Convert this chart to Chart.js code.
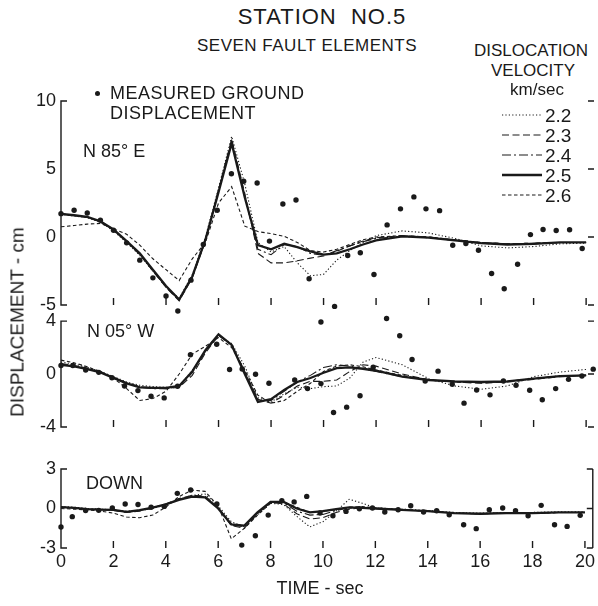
<!DOCTYPE html>
<html>
<head>
<meta charset="utf-8">
<title>Station No.5 - Seven Fault Elements</title>
<script src="https://cdn.jsdelivr.net/npm/chart.js@4"></script>
<style>
  body { margin: 0; background: #fff; }
  #fig { position: relative; width: 598px; height: 606px; background: #fff; overflow: hidden;
         font-family: "Liberation Sans", Arial, sans-serif; color: #1a1a1a; }
  #fig canvas { position: absolute; left: 0; }
  .t { position: absolute; white-space: nowrap; line-height: 1; }
  .c { transform: translate(-50%, -50%); }
  .l { transform: translateY(-50%); }
  .dot { position: absolute; width: 5px; height: 5px; border-radius: 50%; background: #1a1a1a; }
</style>
</head>
<body>
<div id="fig">
  <canvas id="p1" width="598" height="262" style="top:85px"></canvas>
  <canvas id="p2" width="598" height="150" style="top:300px"></canvas>
  <canvas id="p3" width="598" height="156" style="top:450px"></canvas>

  <div class="t c" style="left:322px;top:17px;font-size:22px;letter-spacing:1px">STATION&nbsp; NO.5</div>
  <div class="t c" style="left:307px;top:45px;font-size:17px;letter-spacing:0.5px">SEVEN FAULT ELEMENTS</div>
  <div class="t c" style="left:531px;top:50px;font-size:17px">DISLOCATION</div>
  <div class="t c" style="left:533px;top:70px;font-size:17px">VELOCITY</div>
  <div class="t c" style="left:537px;top:89px;font-size:17px">km/sec</div>
  <div id="legend"></div>

  <div class="dot" style="left:95px;top:91px"></div>
  <div class="t l" style="left:110px;top:93px;font-size:18px;letter-spacing:0.5px">MEASURED GROUND</div>
  <div class="t l" style="left:110px;top:113px;font-size:18px;letter-spacing:0.5px">DISPLACEMENT</div>

  <div class="t l" style="left:83px;top:151px;font-size:18px">N 85° E</div>
  <div class="t l" style="left:87px;top:331px;font-size:18px">N 05° W</div>
  <div class="t l" style="left:86px;top:483px;font-size:18px">DOWN</div>

  <div class="t c" style="left:17px;top:322px;font-size:19px;transform:translate(-50%,-50%) rotate(-90deg)">DISPLACEMENT - cm</div>
  <div class="t c" style="left:320px;top:588px;font-size:18px">TIME - sec</div>
</div>

<script>
// time axis of the computed curves (sec)
const TIME = [0,0.5,1,1.5,2,2.5,3,3.5,4,4.5,5,5.5,6,6.5,7,7.5,8,8.5,9,9.5,10,10.5,11,11.5,12,13,14,15,16,17,18,19,20];
const VELOCITIES = ['2.2', '2.3', '2.4', '2.5', '2.6'];
const X_TICKS = [0,2,4,6,8,10,12,14,16,18,20];
const N85E_TICKS = [-5,0,5,10];
const N05W_TICKS = [-4,0,4];
const DOWN_TICKS = [-3,0,3];

// N 85° E computed displacement (cm), one array per dislocation velocity
const N85E_22 = [1.65,1.55,1.42,1.1,0.45,-0.4,-1.35,-2.5,-3.7,-4.5,-2.8,0.0,3.6,7.4,3.9,-0.4,-1.1,-0.7,-1.9,-2.85,-2.75,-1.7,-1.0,-0.4,0.1,0.45,0.3,-0.1,-0.65,-0.8,-0.7,-0.5,-0.45];
const N85E_23 = [1.7,1.58,1.45,1.12,0.5,-0.35,-1.3,-2.5,-3.7,-4.7,-3.0,-0.3,3.5,7.2,3.2,-1.2,-1.9,-1.9,-1.75,-1.55,-1.4,-1.05,-0.65,-0.3,-0.05,0.1,0.0,-0.2,-0.4,-0.5,-0.45,-0.4,-0.4];
const N85E_24 = [1.7,1.58,1.45,1.14,0.52,-0.32,-1.25,-2.45,-3.65,-4.65,-2.95,-0.25,3.4,7.0,3.0,-0.9,-1.3,-0.55,-0.7,-1.2,-1.35,-1.0,-0.65,-0.35,-0.1,0.05,-0.05,-0.25,-0.45,-0.55,-0.5,-0.4,-0.4];
const N85E_25 = [1.7,1.6,1.48,1.16,0.55,-0.3,-1.2,-2.4,-3.6,-4.6,-2.9,-0.2,3.3,6.9,2.9,-0.6,-0.9,-0.5,-0.75,-1.05,-1.3,-1.2,-0.9,-0.55,-0.25,0.05,-0.05,-0.25,-0.45,-0.55,-0.5,-0.4,-0.4];
const N85E_26 = [0.75,0.85,0.95,1.0,0.6,0.2,-0.6,-1.6,-2.4,-3.2,-1.6,-0.4,2.5,3.7,0.8,0.4,0.25,0.05,-0.4,-1.0,-1.1,-0.9,-0.55,-0.2,0.0,0.1,0.0,-0.2,-0.4,-0.5,-0.45,-0.4,-0.4];
const N85E_OBS_T = [0,0.5,1,1.5,2,2.5,3,3.5,4,4.45,4.95,5.42,5.95,6.49,6.96,7.47,7.94,8.45,8.95,9.45,9.9,10.42,10.92,11.4,11.92,12.42,12.93,13.44,13.9,14.42,14.92,15.42,15.9,16.4,16.88,17.39,17.88,18.36,18.86,19.37,19.85];
const N85E_OBS_V = [1.72,1.97,1.77,1.23,0.5,-0.43,-1.7,-3.0,-4.34,-5.44,-3.17,-0.55,1.97,4.65,4.1,3.97,-0.3,2.43,2.72,-3.07,-6.25,-5.1,-1.36,-1.16,-2.75,0.89,2.07,2.95,2.07,1.94,-0.6,-0.48,-0.97,-2.68,-3.8,-2.0,0.18,0.55,0.48,0.53,-0.84];

// N 05° W
const N05W_22 = [0.9,0.75,0.5,0.2,-0.2,-0.6,-0.85,-0.95,-1.0,-0.95,0.3,1.7,2.9,2.3,0.6,-1.8,-2.1,-1.5,-1.0,-1.1,-0.95,-0.9,-0.3,0.9,1.25,0.7,-0.35,-0.9,-1.15,-0.9,-0.2,0.15,0.35];
const N05W_23 = [0.8,0.65,0.45,0.15,-0.25,-0.65,-0.95,-1.05,-1.1,-1.0,-0.1,1.6,2.9,2.2,0.2,-1.9,-2.2,-1.6,-0.9,-0.55,-0.55,-0.45,0.2,0.7,0.6,0.0,-0.45,-0.6,-0.7,-0.6,-0.4,-0.2,-0.1];
const N05W_24 = [0.75,0.6,0.4,0.15,-0.3,-0.7,-1.0,-1.1,-1.1,-0.95,0.1,1.7,2.95,2.2,0.1,-2.0,-2.0,-1.3,-0.6,-0.1,0.5,0.7,0.6,0.4,0.2,-0.2,-0.45,-0.55,-0.65,-0.55,-0.35,-0.15,-0.1];
const N05W_25 = [0.7,0.58,0.38,0.13,-0.29,-0.7,-1.0,-1.05,-1.05,-0.9,0.2,1.8,3.0,2.2,0.0,-2.1,-1.9,-1.2,-0.6,-0.3,0.1,0.45,0.5,0.4,0.25,-0.2,-0.45,-0.55,-0.6,-0.55,-0.35,-0.15,-0.1];
const N05W_26 = [1.05,0.85,0.55,0.2,-0.3,-1.1,-2.0,-1.85,-1.3,0.0,1.5,2.1,2.75,2.0,0.3,-1.6,-2.2,-2.0,-1.3,-0.7,0.2,0.6,0.7,0.55,0.3,-0.1,-0.45,-0.6,-0.65,-0.55,-0.35,-0.15,-0.1];
const N05W_OBS_T = [0,0.45,0.94,1.44,1.94,2.42,2.93,3.43,3.93,4.44,4.93,5.93,6.42,6.9,7.41,7.92,8.9,9.39,9.9,10.38,10.88,11.39,11.89,12.4,12.9,13.37,13.87,14.36,14.9,15.35,15.83,16.34,16.85,17.33,17.85,18.33,18.84,19.33,19.84,20.27];
const N05W_OBS_V = [0.65,0.65,0.3,0.13,-0.28,-0.9,-1.25,-1.68,-1.8,-0.92,1.46,2.25,0.34,0.38,-0.02,-0.7,-0.45,-1.1,-0.72,-2.9,-2.5,-1.64,0.52,4.2,2.89,1.1,-0.52,0.22,-0.77,-2.2,-1.2,-1.57,-0.52,-0.85,-1.22,-1.94,-1.1,-0.4,-0.15,0.37];

// DOWN
const DOWN_22 = [0.15,0.1,0.0,-0.05,-0.1,-0.2,-0.15,0.0,0.3,0.7,1.0,1.1,0.2,-1.0,-1.4,-0.5,0.4,0.3,-0.6,-1.4,-1.0,-0.2,0.7,0.4,0.05,-0.05,-0.15,-0.3,-0.35,-0.3,-0.3,-0.25,-0.25];
const DOWN_23 = [0.1,0.05,-0.05,-0.1,-0.15,-0.3,-0.2,0.05,0.35,0.75,1.0,0.95,0.1,-1.3,-1.5,-0.4,0.45,0.35,-0.4,-0.8,-0.7,-0.3,-0.05,0.05,0.0,-0.1,-0.2,-0.35,-0.4,-0.35,-0.35,-0.3,-0.3];
const DOWN_24 = [0.1,0.05,-0.05,-0.08,-0.12,-0.28,-0.16,0.05,0.33,0.7,0.95,0.9,0.05,-1.25,-1.4,-0.35,0.5,0.45,-0.2,-0.5,-0.45,-0.15,0.05,0.05,0.0,-0.1,-0.2,-0.35,-0.4,-0.35,-0.35,-0.3,-0.3];
const DOWN_25 = [0.1,0.05,-0.05,-0.08,-0.1,-0.25,-0.13,0.07,0.32,0.66,0.9,0.85,0.0,-1.2,-1.3,-0.3,0.5,0.5,0.0,-0.3,-0.2,-0.05,0.08,0.05,0.0,-0.1,-0.2,-0.35,-0.4,-0.35,-0.35,-0.3,-0.3];
const DOWN_26 = [0.0,-0.05,-0.1,-0.2,-0.35,-0.65,-0.7,-0.5,0.1,0.9,1.4,1.3,0.2,-2.3,-1.5,-0.5,0.4,0.5,0.1,-0.3,-0.2,-0.1,0.1,0.15,0.05,-0.1,-0.2,-0.35,-0.4,-0.35,-0.35,-0.3,-0.3];
const DOWN_OBS_T = [0,0.43,0.94,1.44,1.96,2.45,2.94,3.44,3.94,4.44,4.95,5.95,6.9,7.42,7.91,8.43,8.9,9.38,9.89,10.38,10.88,11.39,11.89,12.36,12.87,13.35,13.84,14.34,14.82,15.37,15.85,16.35,16.86,17.35,17.83,18.33,18.84,19.32,19.82];
const DOWN_OBS_V = [-1.4,-0.62,-0.15,-0.14,0.04,0.34,0.3,0.1,0.16,1.15,1.4,0.34,-2.78,-2.07,-0.5,0.59,0.5,0.92,-0.34,-0.55,-0.22,-0.02,0.04,-0.27,-0.09,0.21,-0.27,-0.17,-0.47,-1.23,-1.53,-0.09,0.04,-0.17,-0.55,0.24,-1.23,-1.36,-0.52];

const INK = '#1a1a1a';
const FONT = '"Liberation Sans", Arial, sans-serif';
// dotted, long dash, dash-dot, solid (heavy), short dash
const LINE_STYLES = [
  { dash: [1.2, 2.2], width: 1.1 },
  { dash: [7, 3.5], width: 1.1 },
  { dash: [9, 3, 2, 3], width: 1.1 },
  { dash: [], width: 2.3 },
  { dash: [3.5, 2.5], width: 1.1 }
];

// axis stubs and inward tick marks like the drafted frame (spans first..last y tick)
const frameTicks = {
  id: 'frameTicks',
  afterDatasetsDraw(chart) {
    const ctx = chart.ctx;
    const a = chart.chartArea;
    const x = chart.scales.x, y = chart.scales.y;
    const yt = y.ticks;
    const top = y.getPixelForValue(yt[yt.length - 1].value);
    const bottom = y.getPixelForValue(yt[0].value);
    ctx.save();
    ctx.setLineDash([]);
    ctx.strokeStyle = INK;
    ctx.lineWidth = 1.4;
    ctx.beginPath();
    ctx.moveTo(a.left + 6, top); ctx.lineTo(a.left, top);
    ctx.lineTo(a.left, bottom); ctx.lineTo(a.left + 6, bottom);
    X_TICKS.forEach(v => {
      if (v <= 0) return;
      const px = x.getPixelForValue(v);
      ctx.moveTo(px, bottom); ctx.lineTo(px, bottom - 7);
    });
    yt.forEach(t => {
      const py = y.getPixelForValue(t.value);
      ctx.moveTo(a.right, py); ctx.lineTo(a.right - 6, py);
    });
    if (chart.canvas.id === 'p3') { ctx.moveTo(a.right, top); ctx.lineTo(a.right, bottom); }
    ctx.stroke();
    ctx.restore();
  }
};

function toPoints(ts, vs) {
  return ts.map((t, i) => ({ x: t, y: vs[i] }));
}

function makePanel(id, curves, obsT, obsV, yMin, yMax, yTicks, padTop, padBottom, showX) {
  const datasets = [{
    label: 'Measured',
    data: toPoints(obsT, obsV),
    showLine: false,
    pointRadius: 2.7,
    pointBackgroundColor: INK,
    pointBorderWidth: 0,
    clip: false
  }];
  curves.forEach((vals, i) => {
    datasets.push({
      label: VELOCITIES[i],
      data: toPoints(TIME, vals),
      borderColor: INK,
      borderWidth: LINE_STYLES[i].width,
      borderDash: LINE_STYLES[i].dash,
      pointRadius: 0,
      tension: 0,
      fill: false,
      clip: false
    });
  });

  return new Chart(document.getElementById(id), {
    type: 'line',
    data: { datasets },
    options: {
      responsive: false,
      animation: false,
      events: [],
      layout: { padding: { left: 0, right: 1, top: padTop, bottom: padBottom } },
      plugins: { legend: { display: false }, tooltip: { enabled: false } },
      scales: {
        x: {
          type: 'linear', min: 0, max: 20.3, display: showX,
          afterBuildTicks: s => { s.ticks = X_TICKS.map(v => ({ value: v })); },
          afterFit: s => { s.height = showX ? 58 : 0; },
          grid: { display: false, drawTicks: false },
          border: { display: false },
          ticks: { color: INK, padding: 3, maxRotation: 0, autoSkip: false, font: { family: FONT, size: 18 } }
        },
        y: {
          min: yMin, max: yMax,
          afterBuildTicks: s => { s.ticks = yTicks.map(v => ({ value: v })); },
          afterFit: s => { s.width = 61; },
          grid: { display: false, drawTicks: false },
          border: { display: false },
          ticks: { color: INK, padding: 5, font: { family: FONT, size: 18 } }
        }
      }
    },
    plugins: [frameTicks]
  });
}

// panel 1 range runs a little below -5 so the low measured points stay visible
makePanel('p1', [N85E_22, N85E_23, N85E_24, N85E_25, N85E_26], N85E_OBS_T, N85E_OBS_V, -6.6, 10, N85E_TICKS, 16, 20.2, false);
makePanel('p2', [N05W_22, N05W_23, N05W_24, N05W_25, N05W_26], N05W_OBS_T, N05W_OBS_V, -4, 4.4, N05W_TICKS, 14.6, 23, false);
makePanel('p3', [DOWN_22, DOWN_23, DOWN_24, DOWN_25, DOWN_26], DOWN_OBS_T, DOWN_OBS_V, -3, 3, DOWN_TICKS, 19, 0, true);

// legend of line styles
const legend = document.getElementById('legend');
VELOCITIES.forEach((v, i) => {
  const y = 115 + i * 20;
  const st = LINE_STYLES[i];
  const svg = document.createElementNS('http://www.w3.org/2000/svg', 'svg');
  svg.setAttribute('width', '40'); svg.setAttribute('height', '6');
  svg.style.cssText = 'position:absolute;left:502px;top:' + (y - 3) + 'px';
  const ln = document.createElementNS('http://www.w3.org/2000/svg', 'line');
  ln.setAttribute('x1', '0'); ln.setAttribute('x2', '40');
  ln.setAttribute('y1', '3'); ln.setAttribute('y2', '3');
  ln.setAttribute('stroke', INK);
  ln.setAttribute('stroke-width', st.width);
  if (st.dash.length) ln.setAttribute('stroke-dasharray', st.dash.join(' '));
  svg.appendChild(ln);
  legend.appendChild(svg);
  const lab = document.createElement('div');
  lab.className = 't l';
  lab.style.cssText = 'left:545px;top:' + y + 'px;font-size:19px';
  lab.textContent = v;
  legend.appendChild(lab);
});
</script>
</body>
</html>
